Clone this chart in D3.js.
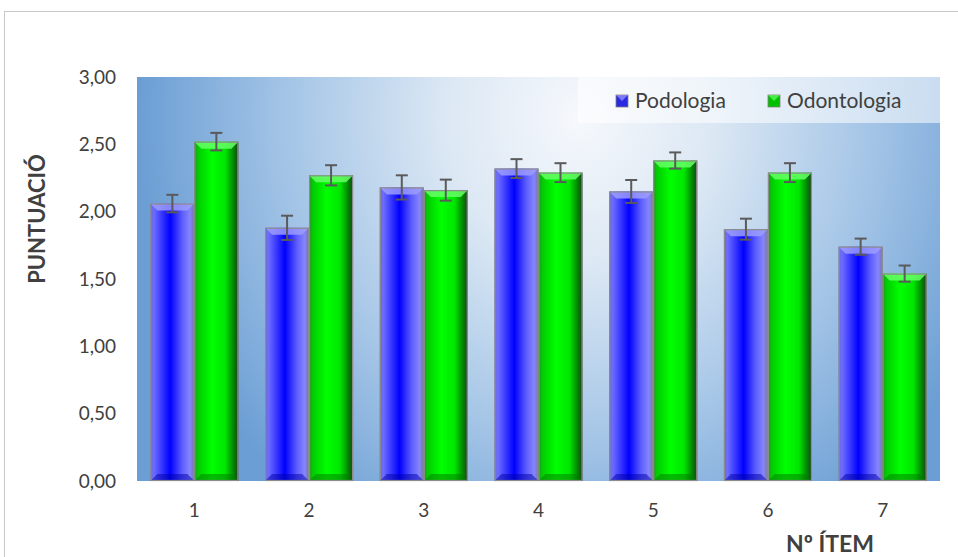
<!DOCTYPE html>
<html>
<head>
<meta charset="utf-8">
<script src="https://cdn.jsdelivr.net/npm/d3@7"></script>
<style>
  body { margin: 0; background: #fff; }
  text { font-family: Lato, "Open Sans", sans-serif; }
</style>
</head>
<body>
<div id="chart"></div>
<script>
const items = ['1', '2', '3', '4', '5', '6', '7'];
const series = ['Podologia', 'Odontologia'];
const podologia = [2.06, 1.88, 2.18, 2.32, 2.15, 1.87, 1.74];
const odontologia = [2.52, 2.27, 2.16, 2.29, 2.38, 2.29, 1.54];
const podologiaErr = [0.065, 0.09, 0.09, 0.07, 0.085, 0.078, 0.06];
const odontologiaErr = [0.065, 0.075, 0.078, 0.07, 0.06, 0.07, 0.06];
const yTicks = [0, 0.5, 1, 1.5, 2, 2.5, 3];

const width = 958, height = 557;
const margin = {top: 77, right: 18, bottom: 76, left: 137};

const svg = d3.select('#chart').append('svg')
  .attr('width', width)
  .attr('height', height);

const defs = svg.append('defs');

// background of plot area (light centre near the top, blue towards the sides)
const bg = defs.append('radialGradient')
  .attr('id', 'bg')
  .attr('cx', 0.55).attr('cy', 0.1).attr('r', 0.55)
  .attr('fx', 0.55).attr('fy', 0.1)
  .attr('gradientTransform', 'translate(0.55,0.1) scale(1,2.2) translate(-0.55,-0.1)');
bg.append('stop').attr('offset', '0%').attr('stop-color', '#f6f8fc');
bg.append('stop').attr('offset', '30%').attr('stop-color', '#dce8f4');
bg.append('stop').attr('offset', '65%').attr('stop-color', '#a6c6e7');
bg.append('stop').attr('offset', '100%').attr('stop-color', '#6b9ed4');

const gBlue = defs.append('linearGradient').attr('id', 'gBlue');
[['0%', '#6a6ad8'], ['8%', '#6c6cff'], ['45%', '#0000ff'], ['72%', '#5c5cff'],
 ['90%', '#8585ff'], ['100%', '#76769a']].forEach(([o, c]) =>
  gBlue.append('stop').attr('offset', o).attr('stop-color', c));

const gGreen = defs.append('linearGradient').attr('id', 'gGreen');
[['0%', '#2a8a2a'], ['8%', '#00cc00'], ['40%', '#00ff00'], ['70%', '#00e600'],
 ['88%', '#008a00'], ['100%', '#1f3f1f']].forEach(([o, c]) =>
  gGreen.append('stop').attr('offset', o).attr('stop-color', c));

const colors = {
  Podologia: {fill: 'url(#gBlue)', top: '#9c9cff', bottom: '#0000a8', icon: '#2a2ae0'},
  Odontologia: {fill: 'url(#gGreen)', top: '#66ff66', bottom: '#007a00', icon: '#00c000'}
};

// outer frame
svg.append('rect')
  .attr('x', 4.5).attr('y', 11.5)
  .attr('width', 970).attr('height', 570)
  .attr('fill', 'none').attr('stroke', '#c8c8c8');

const x = d3.scaleBand()
  .domain(items)
  .range([margin.left, width - margin.right])
  .paddingInner(0.233)
  .paddingOuter(0.1165);

const xs = d3.scaleBand()
  .domain(series)
  .range([0, x.bandwidth()]);

const y = d3.scaleLinear()
  .domain([0, 3])
  .range([height - margin.bottom, margin.top]);

svg.append('rect')
  .attr('x', margin.left).attr('y', margin.top)
  .attr('width', width - margin.right - margin.left)
  .attr('height', y(0) - y(3))
  .attr('fill', 'url(#bg)');

// legend box
const legend = svg.append('g');
legend.append('rect')
  .attr('x', 578).attr('y', 77)
  .attr('width', 362).attr('height', 46)
  .attr('fill', 'rgba(255,255,255,0.55)');
const legX = [616, 768];
series.forEach((s, i) => {
  const lg = legend.append('g').attr('transform', `translate(${legX[i]},95)`);
  lg.append('rect').attr('width', 12).attr('height', 12)
    .attr('fill', colors[s].icon).attr('stroke', '#808080').attr('stroke-width', 0.8);
  lg.append('path').attr('d', 'M0,0L12,0L6,6Z').attr('fill', colors[s].top).attr('opacity', 0.7);
  lg.append('text').attr('x', 19).attr('y', 13)
    .attr('font-size', 21).attr('fill', '#404040').text(s);
});

const data = items.map((it, i) => ({
  item: it,
  vals: [
    {s: 'Podologia', v: podologia[i], e: podologiaErr[i]},
    {s: 'Odontologia', v: odontologia[i], e: odontologiaErr[i]}
  ]
}));

const bev = 7;
const groups = svg.append('g').selectAll('g')
  .data(data)
  .join('g')
  .attr('transform', d => `translate(${x(d.item)},0)`);

const bars = groups.selectAll('g.bar')
  .data(d => d.vals)
  .join('g')
  .attr('class', 'bar');

bars.append('rect')
  .attr('x', d => xs(d.s))
  .attr('y', d => y(d.v))
  .attr('width', xs.bandwidth())
  .attr('height', d => y(0) - y(d.v))
  .attr('fill', d => colors[d.s].fill);

bars.append('path')
  .attr('d', d => {
    const x0 = xs(d.s), x1 = x0 + xs.bandwidth(), t = y(d.v);
    return `M${x0},${t}L${x1},${t}L${x1 - bev},${t + bev}L${x0 + bev},${t + bev}Z`;
  })
  .attr('fill', d => colors[d.s].top)
  .attr('opacity', 0.85);

bars.append('path')
  .attr('d', d => {
    const x0 = xs(d.s), x1 = x0 + xs.bandwidth(), b = y(0);
    return `M${x0},${b}L${x1},${b}L${x1 - bev},${b - bev}L${x0 + bev},${b - bev}Z`;
  })
  .attr('fill', d => colors[d.s].bottom)
  .attr('opacity', 0.5);

bars.append('rect')
  .attr('x', d => xs(d.s) + 0.5)
  .attr('y', d => y(d.v) + 0.5)
  .attr('width', xs.bandwidth() - 1)
  .attr('height', d => y(0) - y(d.v) - 1)
  .attr('fill', 'none')
  .attr('stroke', '#8c8c8c')
  .attr('stroke-width', 1.2);

// error bars
const err = bars.append('g')
  .attr('stroke', '#5a5a5a')
  .attr('stroke-width', 2);
const cx = d => xs(d.s) + xs.bandwidth() / 2;
err.append('line')
  .attr('x1', cx).attr('x2', cx)
  .attr('y1', d => y(d.v + d.e)).attr('y2', d => y(d.v - d.e));
err.append('line')
  .attr('x1', d => cx(d) - 6).attr('x2', d => cx(d) + 6)
  .attr('y1', d => y(d.v + d.e)).attr('y2', d => y(d.v + d.e));
err.append('line')
  .attr('x1', d => cx(d) - 6).attr('x2', d => cx(d) + 6)
  .attr('y1', d => y(d.v - d.e)).attr('y2', d => y(d.v - d.e));

// axes
const yAxis = svg.append('g')
  .attr('transform', `translate(${margin.left},0)`)
  .call(d3.axisLeft(y).tickValues(yTicks).tickSize(0).tickPadding(21)
    .tickFormat(d => d3.format('.2f')(d).replace('.', ',')));
yAxis.select('.domain').remove();
yAxis.selectAll('text').attr('font-size', 19).attr('fill', '#404040')
  .attr('font-family', 'Lato, sans-serif');

const xAxis = svg.append('g')
  .attr('transform', `translate(0,${y(0)})`)
  .call(d3.axisBottom(x).tickSize(0).tickPadding(23));
xAxis.select('.domain').remove();
xAxis.selectAll('text').attr('font-size', 19).attr('fill', '#404040')
  .attr('font-family', 'Lato, sans-serif');

svg.append('text')
  .attr('x', 830).attr('y', 552)
  .attr('text-anchor', 'middle')
  .attr('font-size', 23).attr('font-weight', 'bold').attr('fill', '#404040')
  .text('Nº ÍTEM');

svg.append('text')
  .attr('transform', 'translate(45,219) rotate(-90)')
  .attr('text-anchor', 'middle')
  .attr('font-size', 22).attr('font-weight', 'bold').attr('fill', '#404040')
  .text('PUNTUACIÓ');
</script>
</body>
</html>
